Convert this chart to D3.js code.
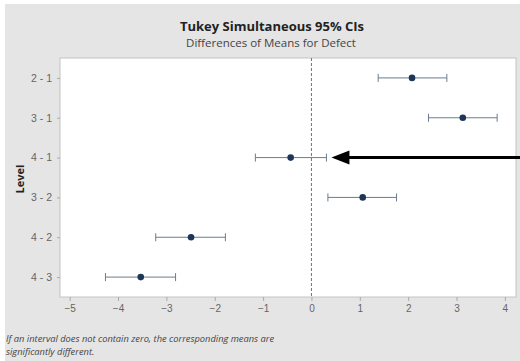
<!DOCTYPE html>
<html>
<head>
<meta charset="utf-8">
<script src="https://cdn.jsdelivr.net/npm/d3@7"></script>
<style>
	body { margin: 0; background: #fff; }
	svg { display: block; font-family: "Open Sans", "DejaVu Sans", sans-serif; }
</style>
</head>
<body>
<script>
var levels = ['2 - 1', '3 - 1', '4 - 1', '3 - 2', '4 - 2', '4 - 3']
var diffs = [2.08, 3.13, -0.43, 1.06, -2.49, -3.53]
var lower = [1.38, 2.42, -1.16, 0.34, -3.22, -4.26]
var upper = [2.80, 3.84, 0.31, 1.76, -1.78, -2.81]
var xTicks = [-5, -4, -3, -2, -1, 0, 1, 2, 3, 4]
var pointed = '4 - 1'

var W = 520, H = 361
var plot = { left: 60, top: 58, right: 516, bottom: 297 }

var svg = d3.select('body').append('svg')
	.attr('width', W)
	.attr('height', H)

svg.append('rect')
	.attr('x', 5).attr('y', 4)
	.attr('width', W - 5).attr('height', H - 4)
	.attr('fill', '#e5e5e5')

svg.append('rect')
	.attr('x', plot.left).attr('y', plot.top)
	.attr('width', plot.right - plot.left).attr('height', plot.bottom - plot.top)
	.attr('fill', '#fff')
	.attr('stroke', '#c4c4c4')

var x = d3.scaleLinear().domain([-5.2, 4.23]).range([plot.left, plot.right])
var y = d3.scalePoint().domain(levels).range([plot.top, plot.bottom]).padding(0.5)

// axes
var xAxis = svg.append('g')
	.attr('transform', 'translate(0,' + plot.bottom + ')')
	.call(d3.axisBottom(x).tickValues(xTicks).tickSize(4).tickFormat(d3.format('d')))
xAxis.select('.domain').remove()
xAxis.selectAll('line').attr('stroke', '#aaa')
xAxis.selectAll('text').attr('fill', '#666').attr('font-size', 10).attr('dy', '0.75em')

var yAxis = svg.append('g')
	.attr('transform', 'translate(' + plot.left + ',0)')
	.call(d3.axisLeft(y).tickSize(3).tickPadding(5))
yAxis.select('.domain').remove()
yAxis.selectAll('line').attr('stroke', '#aaa')
yAxis.selectAll('text').attr('fill', '#666').attr('font-size', 10.5)

// zero reference
svg.append('line')
	.attr('x1', x(0)).attr('x2', x(0))
	.attr('y1', plot.top).attr('y2', plot.bottom)
	.attr('stroke', '#4f7c9e')
	.attr('stroke-dasharray', '3,2')

// intervals
var rows = svg.append('g').selectAll('g')
	.data(levels)
	.enter()
	.append('g')
	.attr('transform', function(d) { return 'translate(0,' + y(d) + ')' })

rows.append('line')
	.attr('x1', function(d, i) { return x(lower[i]) })
	.attr('x2', function(d, i) { return x(upper[i]) })
	.attr('stroke', '#6a7c90')
	.attr('stroke-width', 1)

rows.selectAll('.cap')
	.data(function(d, i) { return [lower[i], upper[i]] })
	.enter()
	.append('line')
	.attr('class', 'cap')
	.attr('x1', function(v) { return x(v) }).attr('x2', function(v) { return x(v) })
	.attr('y1', -4).attr('y2', 4)
	.attr('stroke', '#6a7c90')

rows.append('circle')
	.attr('cx', function(d, i) { return x(diffs[i]) })
	.attr('r', 3.3)
	.attr('fill', '#1d3557')

// arrow pointing at the interval that crosses zero
var ai = levels.indexOf(pointed)
var tipX = x(upper[ai]) + 5
var ay = y(pointed)
svg.append('line')
	.attr('x1', tipX + 14).attr('x2', W)
	.attr('y1', ay).attr('y2', ay)
	.attr('stroke', '#000')
	.attr('stroke-width', 3)
svg.append('path')
	.attr('d', 'M' + tipX + ',' + ay + 'L' + (tipX + 18) + ',' + (ay - 7) + 'L' + (tipX + 18) + ',' + (ay + 7) + 'Z')
	.attr('fill', '#000')

// titles
svg.append('text')
	.attr('x', 272).attr('y', 31)
	.attr('text-anchor', 'middle')
	.attr('font-size', 13).attr('font-weight', 'bold')
	.attr('fill', '#222')
	.text('Tukey Simultaneous 95% CIs')
svg.append('text')
	.attr('x', 271).attr('y', 47)
	.attr('text-anchor', 'middle')
	.attr('font-size', 11.5)
	.attr('fill', '#444')
	.text('Differences of Means for Defect')

svg.append('text')
	.attr('transform', 'translate(24,179) rotate(-90)')
	.attr('text-anchor', 'middle')
	.attr('font-size', 11).attr('font-weight', 'bold')
	.attr('fill', '#222')
	.text('Level')

var note = svg.append('text')
	.attr('font-size', 9.3).attr('font-style', 'italic')
	.attr('fill', '#444')
note.append('tspan').attr('x', 6).attr('y', 342)
	.text('If an interval does not contain zero, the corresponding means are')
note.append('tspan').attr('x', 6).attr('y', 355)
	.text('significantly different.')
</script>
</body>
</html>
